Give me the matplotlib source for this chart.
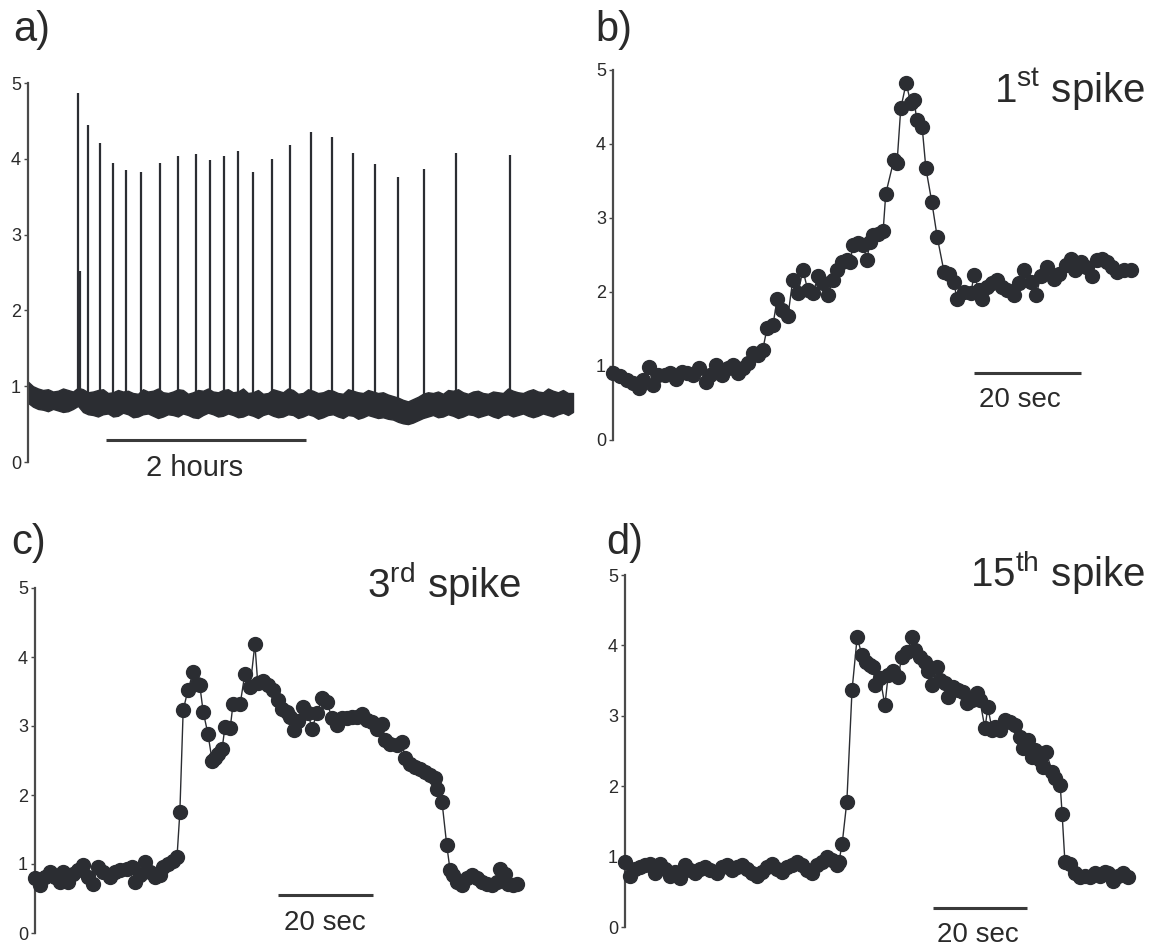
import numpy as np
import matplotlib
matplotlib.use('Agg')
import matplotlib.pyplot as plt

plt.rcParams['font.family'] = ['Liberation Sans', 'DejaVu Sans']
plt.rcParams['mathtext.fontset'] = 'custom'
plt.rcParams['mathtext.rm'] = 'Liberation Sans'
plt.rcParams['mathtext.it'] = 'Liberation Sans:italic'

# ---------------- data ----------------
# panel a: long recording (hours) - noisy baseline envelope
env_t = [round(0.05 * i, 2) for i in range(110)]
env_upper = [1.06, 1.00, 0.97, 0.95, 0.96, 0.93, 0.94, 0.97, 0.95, 0.93,
             0.98, 0.96, 0.92, 0.93, 0.95, 0.96, 0.91, 0.92, 0.95, 0.93,
             0.94, 0.91, 0.90, 0.96, 0.93, 0.94, 0.97, 0.92, 0.91, 0.93,
             0.96, 0.95, 0.90, 0.92, 0.95, 0.94, 0.97, 0.93, 0.92, 0.95,
             0.96, 0.92, 0.93, 0.97, 0.91, 0.92, 0.95, 0.90, 0.91, 0.96,
             0.94, 0.92, 0.97, 0.95, 0.90, 0.91, 0.96, 0.94, 0.91, 0.92,
             0.95, 0.94, 0.91, 0.90, 0.96, 0.94, 0.92, 0.91, 0.95, 0.93,
             0.91, 0.92, 0.89, 0.87, 0.85, 0.82, 0.80, 0.83, 0.86, 0.90,
             0.92, 0.91, 0.93, 0.90, 0.95, 0.94, 0.96, 0.92, 0.90, 0.93,
             0.94, 0.91, 0.90, 0.93, 0.92, 0.91, 0.97, 0.94, 0.92, 0.91,
             0.94, 0.96, 0.93, 0.92, 0.97, 0.94, 0.92, 0.95, 0.91, 0.91]
env_lower = [0.78, 0.73, 0.70, 0.69, 0.67, 0.70, 0.68, 0.66, 0.67, 0.70,
             0.74, 0.66, 0.63, 0.62, 0.60, 0.63, 0.64, 0.60, 0.61, 0.65,
             0.63, 0.59, 0.60, 0.63, 0.64, 0.61, 0.58, 0.60, 0.63, 0.62,
             0.60, 0.64, 0.62, 0.59, 0.58, 0.62, 0.65, 0.63, 0.60, 0.61,
             0.64, 0.62, 0.59, 0.60, 0.63, 0.61, 0.58, 0.62, 0.64, 0.61,
             0.59, 0.60, 0.63, 0.62, 0.58, 0.60, 0.63, 0.61, 0.57, 0.59,
             0.62, 0.63, 0.60, 0.58, 0.62, 0.61, 0.57, 0.59, 0.62, 0.60,
             0.58, 0.59, 0.57, 0.56, 0.53, 0.51, 0.50, 0.52, 0.55, 0.58,
             0.60, 0.62, 0.59, 0.60, 0.63, 0.61, 0.58, 0.60, 0.63, 0.62,
             0.59, 0.61, 0.63, 0.60, 0.58, 0.62, 0.63, 0.60, 0.62, 0.64,
             0.61, 0.59, 0.61, 0.64, 0.62, 0.60, 0.63, 0.65, 0.62, 0.66]
spike_times_h = [0.50, 0.60, 0.72, 0.85, 0.98, 1.13, 1.32, 1.50, 1.68, 1.82,
                 1.96, 2.10, 2.25, 2.44, 2.62, 2.83, 3.04, 3.25, 3.47, 3.70,
                 3.96, 4.28, 4.82]
spike_peaks = [4.87, 4.45, 4.21, 3.94, 3.85, 3.83, 3.95, 4.04, 4.06, 3.98,
               4.04, 4.10, 3.83, 4.00, 4.18, 4.35, 4.29, 4.07, 3.93, 3.76,
               3.86, 4.07, 4.05]
prespike_time_h = [0.52]
prespike_peak = [2.52]

# panel b: 1st spike (seconds)
b_t = [0.0, 1.3, 2.6, 3.7, 4.9, 5.6, 6.7, 7.5, 8.4, 9.7, 10.7, 11.8, 12.9, 13.8,
       15.0, 16.1, 17.4, 18.1, 19.3, 20.4, 21.5, 22.4, 23.4, 24.3, 25.2, 26.2,
       27.1, 28.0, 28.8, 29.9, 30.7, 31.6, 32.7, 33.6, 34.6, 35.5, 36.4, 37.4,
       38.3, 39.3, 40.2, 41.1, 41.9, 42.8, 43.7, 44.3, 44.9, 45.8, 46.7, 47.5,
       48.0, 48.6, 49.5, 50.5, 51.0, 52.5, 53.1, 53.8, 54.8, 55.7, 56.3, 56.8,
       57.8, 58.5, 59.6, 60.6, 61.9, 62.8, 63.7, 64.3, 65.6, 66.9, 67.5, 68.4,
       69.0, 69.9, 70.8, 71.8, 72.7, 73.6, 75.0, 75.9, 76.8, 78.1, 79.1, 80.0,
       81.1, 82.4, 83.4, 84.7, 85.6, 86.4, 87.5, 88.4, 89.5, 90.5, 91.4, 92.3,
       93.3, 94.2, 95.5, 96.8]
b_v = [0.90, 0.86, 0.81, 0.77, 0.70, 0.81, 0.99, 0.74, 0.88, 0.88, 0.90, 0.83,
       0.92, 0.90, 0.88, 0.97, 0.79, 0.88, 1.01, 0.88, 0.97, 1.01, 0.90, 0.97,
       1.04, 1.17, 1.15, 1.22, 1.51, 1.55, 1.91, 1.76, 1.67, 2.16, 1.98, 2.30,
       2.03, 1.98, 2.21, 2.12, 1.96, 2.16, 2.30, 2.41, 2.43, 2.40, 2.64, 2.66,
       2.64, 2.43, 2.68, 2.77, 2.79, 2.82, 3.33, 3.78, 3.74, 4.48, 4.82, 4.55,
       4.59, 4.32, 4.23, 3.67, 3.22, 2.75, 2.27, 2.25, 2.14, 1.91, 2.00, 1.98,
       2.23, 2.03, 1.91, 2.07, 2.12, 2.16, 2.07, 2.03, 1.96, 2.12, 2.30, 2.14,
       1.96, 2.21, 2.34, 2.18, 2.25, 2.36, 2.45, 2.30, 2.41, 2.34, 2.21, 2.43,
       2.45, 2.41, 2.34, 2.27, 2.30, 2.30]

# panel c: 3rd spike (seconds)
c_t = [0.0, 1.1, 2.1, 3.2, 4.2, 5.3, 5.9, 6.9, 8.0, 9.1, 10.1, 11.2, 12.2, 13.3,
       14.3, 15.8, 16.8, 17.9, 19.4, 20.4, 21.1, 22.1, 23.2, 24.2, 25.3, 26.3,
       26.9, 28.0, 29.1, 29.9, 30.5, 31.2, 32.2, 33.3, 34.1, 34.7, 35.4, 36.4,
       37.3, 37.9, 38.5, 39.4, 40.0, 41.1, 41.7, 43.2, 44.2, 45.3, 46.3, 46.9,
       48.0, 49.1, 50.1, 51.2, 52.0, 53.1, 53.7, 54.5, 55.4, 56.4, 57.5, 58.3,
       59.4, 60.4, 61.5, 62.5, 63.6, 64.6, 65.7, 66.7, 67.8, 68.8, 69.9, 70.9,
       72.0, 73.1, 73.7, 74.7, 76.2, 77.3, 77.9, 78.9, 80.0, 81.1, 82.1, 83.2,
       84.2, 84.6, 85.7, 86.7, 87.4, 88.0, 88.8, 89.9, 90.9, 92.0, 93.1, 94.1,
       95.2, 96.2, 97.3, 97.9, 98.9, 99.6, 100.6, 101.5]
c_v = [0.79, 0.69, 0.81, 0.88, 0.81, 0.74, 0.88, 0.74, 0.86, 0.91, 0.98, 0.81,
       0.71, 0.96, 0.88, 0.81, 0.88, 0.91, 0.93, 0.96, 0.74, 0.84, 1.03, 0.88,
       0.81, 0.84, 0.96, 1.00, 1.05, 1.10, 1.75, 3.23, 3.52, 3.78, 3.61, 3.59,
       3.21, 2.89, 2.50, 2.53, 2.60, 2.67, 2.99, 2.97, 3.32, 3.32, 3.76, 3.57,
       4.19, 3.62, 3.65, 3.60, 3.52, 3.37, 3.25, 3.20, 3.13, 2.94, 3.07, 3.28,
       3.19, 2.96, 3.19, 3.40, 3.35, 3.11, 3.01, 3.11, 3.11, 3.13, 3.13, 3.18,
       3.08, 3.06, 2.96, 3.03, 2.79, 2.74, 2.72, 2.77, 2.53, 2.45, 2.41, 2.38,
       2.33, 2.29, 2.24, 2.09, 1.90, 1.27, 0.91, 0.84, 0.74, 0.69, 0.79, 0.84,
       0.79, 0.74, 0.71, 0.69, 0.74, 0.93, 0.86, 0.71, 0.69, 0.71]

# panel d: 15th spike (seconds)
d_t = [0.0, 1.1, 2.1, 3.2, 4.3, 5.3, 6.4, 7.4, 8.5, 9.6, 10.6, 11.7, 12.8, 13.8,
       14.9, 16.0, 17.0, 18.1, 19.6, 20.6, 21.7, 22.8, 23.8, 24.9, 26.0, 27.0,
       28.1, 29.1, 30.2, 31.3, 32.3, 33.4, 34.5, 35.5, 36.6, 37.7, 38.7, 39.8,
       40.9, 41.9, 43.0, 44.0, 45.1, 45.5, 46.2, 47.2, 48.3, 49.4, 50.4, 51.3,
       52.1, 52.8, 53.2, 54.3, 55.3, 56.0, 57.0, 58.1, 58.9, 60.0, 61.1, 61.7,
       62.8, 63.8, 64.5, 65.3, 66.4, 67.0, 68.1, 68.7, 69.8, 70.9, 71.9, 72.8,
       73.8, 74.9, 75.5, 76.6, 77.2, 78.1, 78.7, 79.8, 80.9, 81.9, 83.0, 84.0,
       84.7, 85.7, 86.6, 87.2, 88.3, 88.9, 89.6, 90.9, 91.5, 92.6, 93.0, 93.6,
       94.7, 95.7, 96.8, 97.9, 98.9, 100.0, 101.1, 102.1, 102.8, 103.8, 104.9,
       106.0, 107.0]
d_v = [0.92, 0.73, 0.83, 0.85, 0.88, 0.90, 0.76, 0.90, 0.83, 0.73, 0.78, 0.69,
       0.88, 0.81, 0.76, 0.83, 0.85, 0.81, 0.76, 0.85, 0.88, 0.81, 0.85, 0.88,
       0.83, 0.76, 0.73, 0.78, 0.85, 0.90, 0.83, 0.78, 0.85, 0.88, 0.92, 0.88,
       0.81, 0.76, 0.88, 0.92, 1.00, 0.95, 0.88, 0.92, 1.18, 1.78, 3.36, 4.12,
       3.86, 3.77, 3.72, 3.70, 3.44, 3.53, 3.15, 3.58, 3.63, 3.55, 3.84, 3.91,
       4.12, 3.93, 3.84, 3.77, 3.63, 3.44, 3.70, 3.51, 3.46, 3.27, 3.41, 3.36,
       3.34, 3.18, 3.22, 3.32, 3.22, 2.82, 3.13, 2.80, 2.84, 2.80, 2.94, 2.91,
       2.87, 2.70, 2.54, 2.65, 2.42, 2.51, 2.37, 2.27, 2.49, 2.20, 2.11, 2.01,
       1.61, 0.92, 0.90, 0.76, 0.71, 0.73, 0.71, 0.76, 0.73, 0.78, 0.76, 0.66,
       0.73, 0.76, 0.71]

y_ticks = [0, 1, 2, 3, 4, 5]
panel_letters = ['a)', 'b)', 'c)', 'd)']
titles = ['1$^{\\mathrm{st}}$ spike', '3$^{\\mathrm{rd}}$ spike', '15$^{\\mathrm{th}}$ spike']

# ---------------- figure ----------------
W, H = 1154, 949
fig = plt.figure(figsize=(W / 100, H / 100), dpi=100)
INK = '#2b2d32'
TXT = '#2a2a2a'


def px_axes(x0, x1, y_top, y_bot):
    return fig.add_axes([x0 / W, 1 - y_bot / H, (x1 - x0) / W, (y_bot - y_top) / H])


def style(ax):
    for s in ['top', 'right', 'bottom']:
        ax.spines[s].set_visible(False)
    ax.spines['left'].set_color('#4a4a4a')
    ax.spines['left'].set_linewidth(1.6)
    ax.set_ylim(0, 5)
    ax.set_yticks(y_ticks)
    ax.set_yticklabels([str(v) for v in y_ticks])
    ax.set_xticks([])
    ax.tick_params(axis='y', length=3, width=1, pad=2, labelsize=13,
                   colors='#4a4a4a', labelcolor=TXT)
    ax.patch.set_alpha(0)


# panel a
axa = px_axes(28, 580, 83, 462)
style(axa)
axa.set_xlim(0, 5.52)
axa.fill_between(env_t, env_lower, env_upper, color=INK, lw=1.0, edgecolor=INK, zorder=2)
axa.vlines(spike_times_h, 0.85, spike_peaks, color=INK, lw=1.6, zorder=3)
axa.vlines(prespike_time_h, 0.85, prespike_peak, color=INK, lw=1.6, zorder=3)
axa.plot([0.78, 2.78], [0.29, 0.29], color='#3a3a3a', lw=2.2, solid_capstyle='butt', clip_on=False)
axa.text(1.67, -0.08, '2 hours', ha='center', va='center', fontsize=21, color=TXT, clip_on=False)

MS = 10

# panel b
axb = px_axes(613, 1150, 70, 440)
style(axb)
axb.set_xlim(0, 100.4)
axb.plot(b_t, b_v, '-', color=INK, lw=1.0, marker='o', ms=MS, clip_on=False, zorder=3)
axb.plot([67.5, 87.5], [0.90, 0.90], color='#3a3a3a', lw=2.2, solid_capstyle='butt', clip_on=False)
axb.text(76.0, 0.54, '20 sec', ha='center', va='center', fontsize=20, color=TXT, clip_on=False)

# panel c
axc = px_axes(35, 575, 588, 933)
style(axc)
axc.set_xlim(0, 113.7)
axc.plot(c_t, c_v, '-', color=INK, lw=1.0, marker='o', ms=MS, clip_on=False, zorder=3)
axc.plot([51.2, 71.2], [0.55, 0.55], color='#3a3a3a', lw=2.2, solid_capstyle='butt', clip_on=False)
axc.text(61.1, 0.14, '20 sec', ha='center', va='center', fontsize=20, color=TXT, clip_on=False)

# panel d
axd = px_axes(625, 1150, 575, 927)
style(axd)
axd.set_xlim(0, 111.7)
axd.plot(d_t, d_v, '-', color=INK, lw=1.0, marker='o', ms=MS, clip_on=False, zorder=3)
axd.plot([65.5, 85.5], [0.27, 0.27], color='#3a3a3a', lw=2.2, solid_capstyle='butt', clip_on=False)
axd.text(75.1, -0.11, '20 sec', ha='center', va='center', fontsize=20, color=TXT, clip_on=False)

# panel letters
for lab, (x, y) in zip(panel_letters, [(13, 30), (595, 30), (11, 543), (606, 543)]):
    fig.text(x / W, 1 - y / H, lab, ha='left', va='center', fontsize=30, color=TXT)

# titles
for ttl, (x, y) in zip(titles, [(1145, 90), (521, 584), (1145, 573)]):
    fig.text(x / W, 1 - y / H, ttl, ha='right', va='center', fontsize=29, color=TXT)

fig.savefig('out.png', dpi=100)
